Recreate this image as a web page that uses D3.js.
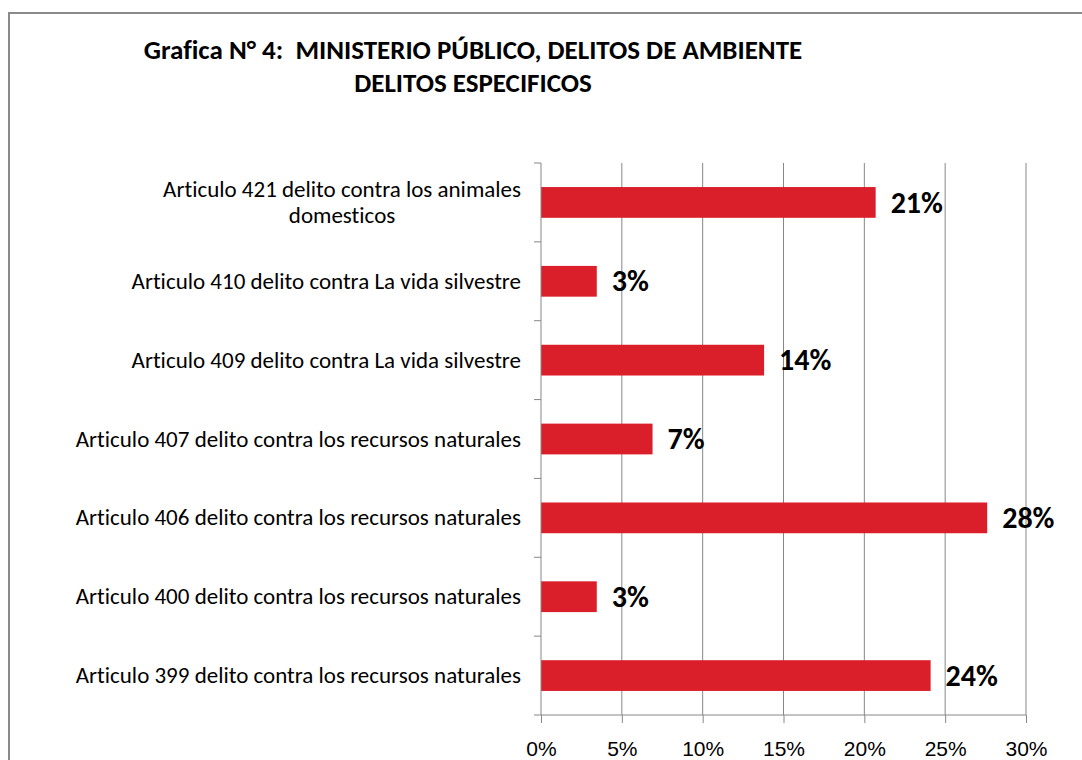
<!DOCTYPE html>
<html>
<head>
<meta charset="utf-8">
<script src="https://cdn.jsdelivr.net/npm/d3@7"></script>
<style>
	body { margin: 0; background: #fff; }
	svg { display: block; font-family: Carlito, Calibri, "Open Sans", sans-serif; font-variant-ligatures: none; }
</style>
</head>
<body>
<svg id="chart"></svg>
<script>
// Chart values, top to bottom as drawn
const categories = [
	"Articulo 421 delito contra los animales domesticos",
	"Articulo 410 delito contra La vida silvestre",
	"Articulo 409 delito contra La vida silvestre",
	"Articulo 407 delito contra los recursos naturales",
	"Articulo 406 delito contra los recursos naturales",
	"Articulo 400 delito contra los recursos naturales",
	"Articulo 399 delito contra los recursos naturales"
];
const shares = [0.207, 0.0345, 0.138, 0.069, 0.276, 0.0345, 0.241];
const xTicks = [0, 0.05, 0.10, 0.15, 0.20, 0.25, 0.30];
const titleLines = [
	"Grafica N° 4:  MINISTERIO PÚBLICO, DELITOS DE AMBIENTE",
	"DELITOS ESPECIFICOS"
];

const width = 1082;
const height = 760;
const plot = { left: 541, right: 1026, top: 163, bottom: 715 };
const barColor = "#da1f2b";
const gridColor = "#878787";

const svg = d3.select("#chart")
	.attr("width", width)
	.attr("height", height);

svg.append("rect")
	.attr("width", width)
	.attr("height", height)
	.attr("fill", "#fff");

// Outer frame (right and bottom edges fall off the page)
svg.append("rect")
	.attr("x", 9)
	.attr("y", 13)
	.attr("width", 1200)
	.attr("height", 900)
	.attr("fill", "none")
	.attr("stroke", "#8a8a8a")
	.attr("stroke-width", 2);

// Title
svg.append("g")
	.selectAll("text")
	.data(titleLines)
	.enter()
	.append("text")
	.attr("x", 473)
	.attr("y", (d, i) => 59 + i * 33)
	.attr("text-anchor", "middle")
	.style("font-size", "27px")
	.style("font-weight", "bold")
	.style("white-space", "pre")
	.text(d => d);

const xScale = d3.scaleLinear()
	.domain([0, 0.30])
	.range([plot.left, plot.right]);

const yScale = d3.scaleBand()
	.domain(categories)
	.range([plot.top, plot.bottom])
	.padding(0);

// Vertical gridlines
svg.append("g")
	.selectAll("line")
	.data(xTicks.slice(1))
	.enter()
	.append("line")
	.attr("x1", d => xScale(d))
	.attr("x2", d => xScale(d))
	.attr("y1", plot.top)
	.attr("y2", plot.bottom)
	.attr("stroke", gridColor)
	.attr("stroke-width", 1);

// Bars
const barH = yScale.bandwidth() * 0.39;
svg.append("g")
	.selectAll("rect")
	.data(shares)
	.enter()
	.append("rect")
	.attr("x", xScale(0))
	.attr("y", (d, i) => yScale(categories[i]) + (yScale.bandwidth() - barH) / 2)
	.attr("width", d => xScale(d) - xScale(0))
	.attr("height", barH)
	.attr("fill", barColor);

// Value labels
svg.append("g")
	.selectAll("text")
	.data(shares)
	.enter()
	.append("text")
	.attr("x", d => xScale(d) + 15)
	.attr("y", (d, i) => yScale(categories[i]) + yScale.bandwidth() / 2)
	.attr("dy", "0.34em")
	.style("font-size", "30px")
	.style("font-weight", "bold")
	.text(d => d3.format(".0%")(d));

// X axis
const xAxis = d3.axisBottom(xScale)
	.tickValues(xTicks)
	.tickSize(8)
	.tickFormat(d3.format(".0%"));

const xAxisLine = svg.append("g")
	.attr("transform", "translate(0," + plot.bottom + ")")
	.call(xAxis);

xAxisLine.selectAll("path, line")
	.attr("stroke", gridColor)
	.attr("stroke-width", 1);
xAxisLine.select("path").attr("d", "M" + plot.left + ",0H" + plot.right);
xAxisLine.selectAll("text")
	.attr("y", 26)
	.attr("dy", "0.71em")
	.attr("fill", "#000")
	.style("font-size", "21px")
	.style("font-family", null);

// Y axis: ticks sit on band edges
const edges = categories.map(c => yScale(c)).concat([plot.bottom]);
const yAxisG = svg.append("g");
yAxisG.append("line")
	.attr("x1", plot.left)
	.attr("x2", plot.left)
	.attr("y1", plot.top)
	.attr("y2", plot.bottom)
	.attr("stroke", gridColor);
yAxisG.selectAll(".ytick")
	.data(edges)
	.enter()
	.append("line")
	.attr("class", "ytick")
	.attr("x1", plot.left - 7)
	.attr("x2", plot.left)
	.attr("y1", d => d)
	.attr("y2", d => d)
	.attr("stroke", gridColor);

// Category labels, wrapped like the spreadsheet does
const labelRight = 521;
const wrapWidth = 455;
const lineGap = 26.5;
categories.forEach(cat => {
	const label = yAxisG.append("text")
		.style("font-size", "23px")
		.attr("fill", "#000");
	const words = cat.split(" ");
	let lines = [];
	let cur = [];
	const probe = label.append("tspan");
	words.forEach(w => {
		probe.text(cur.concat([w]).join(" "));
		if (probe.node().getComputedTextLength() > wrapWidth && cur.length) {
			lines.push(cur.join(" "));
			cur = [w];
		} else {
			cur.push(w);
		}
	});
	lines.push(cur.join(" "));
	probe.remove();

	const widths = lines.map(l => {
		const t = label.append("tspan").text(l);
		const wdt = t.node().getComputedTextLength();
		t.remove();
		return wdt;
	});
	const maxW = d3.max(widths);
	const cy = yScale(cat) + yScale.bandwidth() / 2;
	const y0 = cy - (lines.length - 1) * lineGap / 2;
	label.attr("text-anchor", "middle");
	lines.forEach((l, i) => {
		label.append("tspan")
			.attr("x", lines.length > 1 ? labelRight - maxW / 2 : labelRight - widths[i] / 2)
			.attr("y", y0 + i * lineGap)
			.attr("dy", "0.33em")
			.text(l);
	});
});
</script>
</body>
</html>
